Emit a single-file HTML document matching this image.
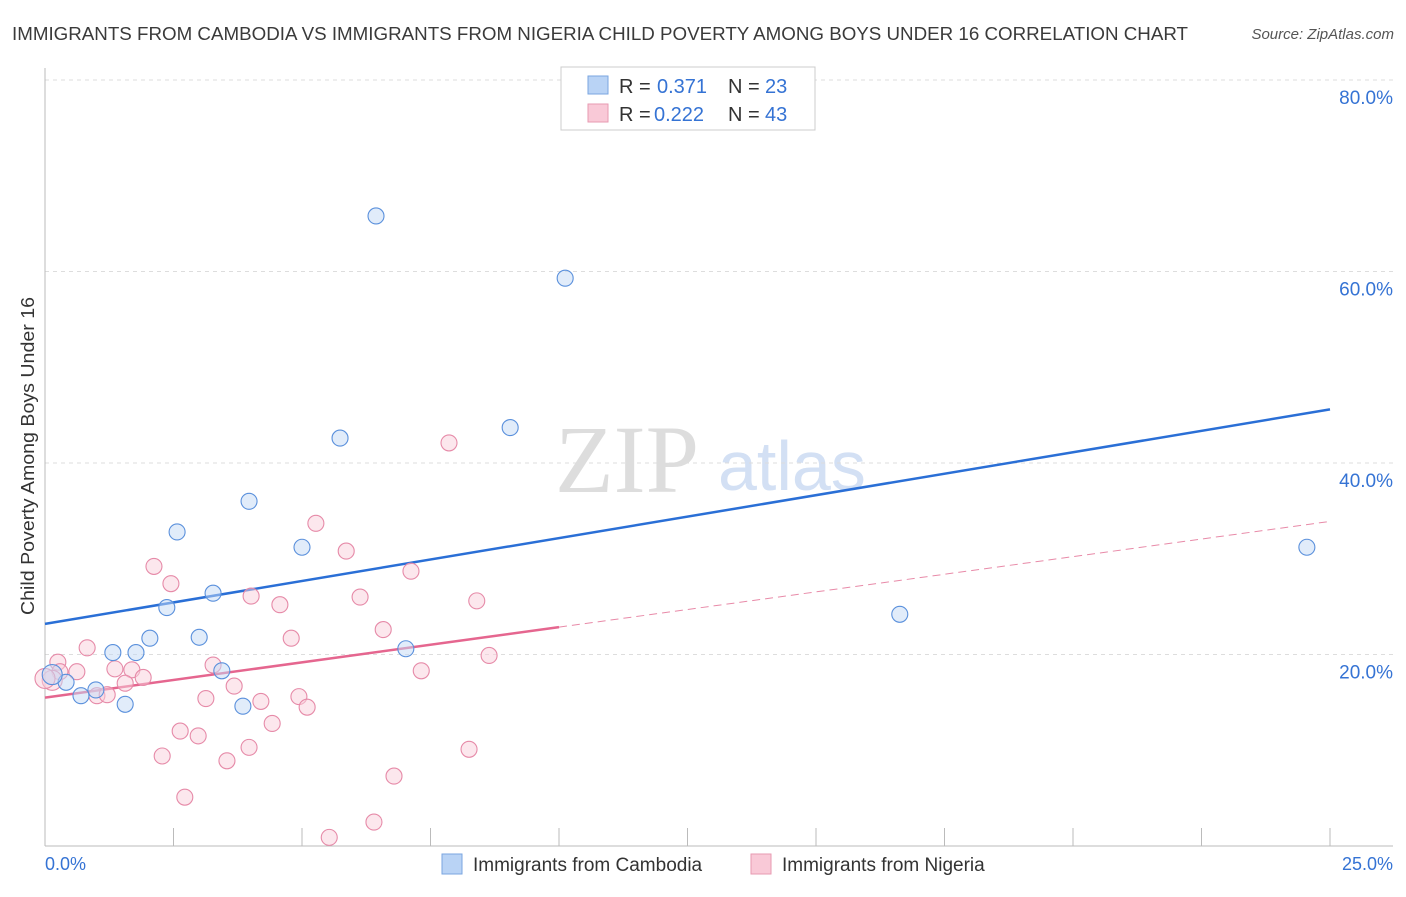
<!DOCTYPE html>
<html><head><meta charset="utf-8"><style>
body{margin:0;background:#fff;font-family:"Liberation Sans",sans-serif}
</style></head><body>
<svg width="1406" height="892" xmlns="http://www.w3.org/2000/svg" style="font-family:'Liberation Sans',sans-serif">
<text x="12" y="40" font-size="18" fill="#3a3a3a" textLength="1176" lengthAdjust="spacingAndGlyphs">IMMIGRANTS FROM CAMBODIA VS IMMIGRANTS FROM NIGERIA CHILD POVERTY AMONG BOYS UNDER 16 CORRELATION CHART</text>
<text x="1394" y="39" font-size="15" fill="#555" text-anchor="end" font-style="italic">Source: ZipAtlas.com</text>
<text x="0" y="0" transform="translate(34,456) rotate(-90)" font-size="18" fill="#333" text-anchor="middle" textLength="318" lengthAdjust="spacingAndGlyphs">Child Poverty Among Boys Under 16</text>
<text x="555" y="492" font-size="96" fill="#ddd" font-family="Liberation Serif">ZIP</text>
<text x="718" y="490" font-size="70" fill="#d3e0f4">atlas</text>
<g id="grid"></g><g id="axes"></g><g id="lines"></g><g id="pts"></g>
<g>
<rect x="561" y="67" width="254" height="63" fill="#fff" stroke="#ccc"/>
<rect x="588" y="76" width="20" height="18" fill="#b9d3f5" stroke="#7aa6e0"/>
<rect x="588" y="104" width="20" height="18" fill="#f9c9d7" stroke="#e79ab2"/>
<g font-size="20" fill="#333">
<text x="619" y="93">R =</text><text x="657" y="93" fill="#3573d4">0.371</text><text x="728" y="93">N =</text><text x="765" y="93" fill="#3573d4">23</text>
<text x="619" y="121">R =</text><text x="654" y="121" fill="#3573d4">0.222</text><text x="728" y="121">N =</text><text x="765" y="121" fill="#3573d4">43</text>
</g>
</g>
<g>
<rect x="442" y="854" width="20" height="20" fill="#b9d3f5" stroke="#7aa6e0"/>
<text x="473" y="871" font-size="19" fill="#333">Immigrants from Cambodia</text>
<rect x="751" y="854" width="20" height="20" fill="#f9c9d7" stroke="#e79ab2"/>
<text x="782" y="871" font-size="19" fill="#333">Immigrants from Nigeria</text>
</g>
<text x="45" y="870" font-size="18" fill="#3573d4">0.0%</text>
<text x="1393" y="870" font-size="18" fill="#3573d4" text-anchor="end">25.0%</text>
</svg>
<script>
const yTicks=[20,40,60,80];
const yTickLabels=["20.0%","40.0%","60.0%","80.0%"];
const cambX=[6.44,10.12,5.74,9.05,3.97,2.57,5.00,3.27,2.37,2.04,3.00,1.32,1.77,7.02,3.44,0.41,0.99,0.70,1.56,3.85,16.63,24.55,0.14];
const cambY=[65.8,59.3,42.6,43.7,36.0,32.8,31.2,26.4,24.9,21.7,21.8,20.2,20.2,20.6,18.3,17.1,16.3,15.7,14.8,14.6,24.2,31.2,17.9];
const nigX=[7.86,5.27,5.86,2.12,2.45,7.12,4.01,4.57,6.13,8.40,6.58,4.79,0.82,8.64,3.27,1.36,1.69,1.91,0.62,7.32,3.68,1.56,4.94,3.13,4.20,5.10,1.01,1.21,2.63,2.98,4.42,3.97,2.28,8.25,3.54,6.79,2.72,6.40,5.53,0.25,0.29,0.14,0];
const nigY=[42.1,33.7,30.8,29.2,27.4,28.7,26.1,25.2,26.0,25.6,22.6,21.7,20.7,19.9,18.9,18.5,18.4,17.6,18.2,18.3,16.7,17.0,15.6,15.4,15.1,14.5,15.7,15.8,12.0,11.5,12.8,10.3,9.4,10.1,8.9,7.3,5.1,2.5,0.9,19.2,18.2,17.3,17.5];
const cambLine=[23.2,45.6];
const nigLine=[15.5,33.9];
const X=v=>45+v/25*1285, Y=v=>846-v*9.575;
const NS="http://www.w3.org/2000/svg";
function mk(t,a,p){const e=document.createElementNS(NS,t);for(const k in a)e.setAttribute(k,a[k]);document.getElementById(p).appendChild(e);return e;}
yTicks.forEach((t,i)=>{
 const l=mk('line',{x1:45,x2:1393,y1:Y(t),y2:Y(t),stroke:'#ddd','stroke-dasharray':'4,4'},'grid');
 
 
 const tx=mk('text',{x:1393,y:Y(t)+24,'font-size':19,fill:'#3573d4','text-anchor':'end'},'grid');
 tx.textContent=yTickLabels[i];
 
 
});
let a=mk('line',{x1:45,x2:45,y1:68,y2:846,stroke:'#bbb'},'axes');


a=mk('line',{x1:45,x2:1393,y1:846,y2:846,stroke:'#bbb'},'axes');


for(let i=1;i<=10;i++){const t=mk('line',{x1:X(i*2.5),x2:X(i*2.5),y1:828,y2:846,stroke:'#bbb'},'axes');
 
 }
function pts(xs,ys,fill,stroke,name){xs.forEach((x,i)=>{const r=(x<0.2)?10:8;
 const c=mk('circle',{cx:X(x),cy:Y(ys[i]),r:r,fill:fill,'fill-opacity':0.5,stroke:stroke,'stroke-width':1.1},'pts');
 
 });}
pts(nigX,nigY,'#f9d0dc','#e68aa8','nigeria-point');
pts(cambX,cambY,'#c4daf6','#5a90dc','cambodia-point');
let l=mk('line',{x1:X(0),y1:Y(cambLine[0]),x2:X(25),y2:Y(cambLine[1]),stroke:'#2a6fd6','stroke-width':2.5},'lines');


const nm=nigLine[0]+(nigLine[1]-nigLine[0])*0.4;
l=mk('line',{x1:X(0),y1:Y(nigLine[0]),x2:X(10),y2:Y(nm),stroke:'#e5668f','stroke-width':2.5},'lines');


l=mk('line',{x1:X(10),y1:Y(nm),x2:X(25),y2:Y(nigLine[1]),stroke:'#e88aa8','stroke-width':1,'stroke-dasharray':'8,5'},'lines');


</script>
</body></html>
